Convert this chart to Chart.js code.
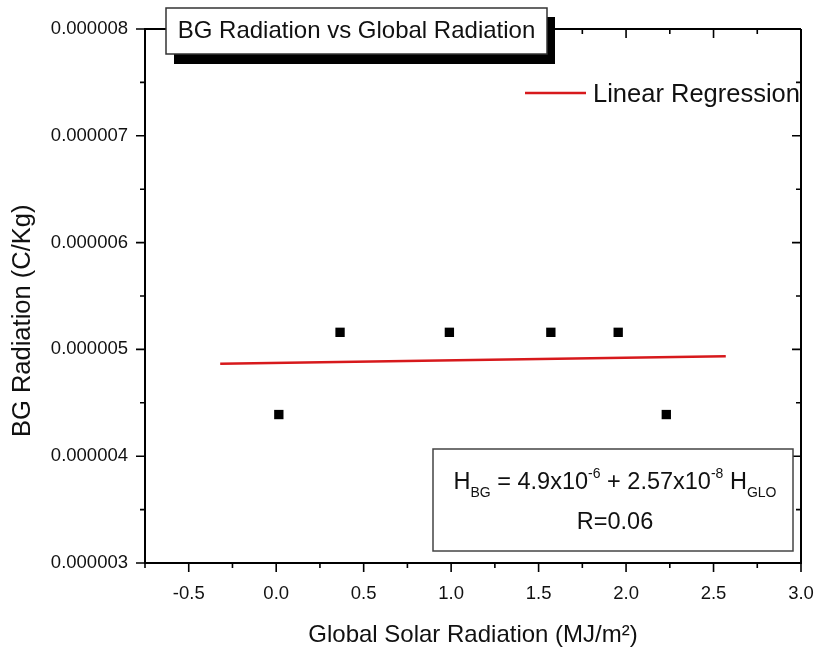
<!DOCTYPE html>
<html>
<head>
<meta charset="utf-8">
<script src="https://cdn.jsdelivr.net/npm/chart.js@4/dist/chart.umd.min.js"></script>
<style>
  html, body { margin: 0; padding: 0; background: #fff; }
  #wrap { width: 817px; height: 650px; }
</style>
</head>
<body>
<div id="wrap"><canvas id="bgChart" width="817" height="650"></canvas></div>
<script>
// measured points
const globalRad = [0.015, 0.365, 0.99, 1.57, 1.955, 2.23];
const bgRad = [0.00000439, 0.00000516, 0.00000516, 0.00000516, 0.00000516, 0.00000439];

// fitted line end points
const fitX = [-0.32, 2.57];
const fitY = [0.000004865, 0.000004935];

const titleText = 'BG Radiation vs Global Radiation';
const legendText = 'Linear Regression';
const rText = 'R=0.06';

const FONT = '"Liberation Sans", Arial, sans-serif';

const toXY = (xs, ys) => xs.map((x, i) => ({ x: x, y: ys[i] }));

// frame, inward/outward ticks, title box, legend and equation box
const decorations = {
  id: 'decorations',
  afterDraw(chart) {
    const { ctx, chartArea: a, scales } = chart;
    const xs = scales.x, ys = scales.y;
    ctx.save();
    ctx.strokeStyle = '#000';
    ctx.lineWidth = 2;
    ctx.beginPath();
    ctx.moveTo(a.left, a.top); ctx.lineTo(a.right, a.top);
    ctx.moveTo(a.right, a.top); ctx.lineTo(a.right, a.bottom);
    ctx.stroke();

    ctx.lineWidth = 1.6;
    ctx.beginPath();
    for (let v = -0.75; v <= 3.0001; v += 0.25) {
      const px = xs.getPixelForValue(v);
      const major = Math.abs(v * 2 - Math.round(v * 2)) < 1e-6;
      const len = major ? 9 : 5;
      ctx.moveTo(px, a.bottom); ctx.lineTo(px, a.bottom + len);
      ctx.moveTo(px, a.top); ctx.lineTo(px, a.top + len);
    }
    for (let k = 30; k <= 80; k += 5) {
      const py = ys.getPixelForValue(k / 1e7);
      const len = k % 10 === 0 ? 9 : 5;
      ctx.moveTo(a.left, py); ctx.lineTo(a.left - len, py);
      ctx.moveTo(a.right, py); ctx.lineTo(a.right - len, py);
    }
    ctx.stroke();

    // title box with shadow
    ctx.fillStyle = '#000';
    ctx.fillRect(174, 17, 381, 47);
    ctx.fillStyle = '#fff';
    ctx.fillRect(166, 8, 381, 46);
    ctx.strokeStyle = '#333';
    ctx.lineWidth = 1.5;
    ctx.strokeRect(166, 8, 381, 46);
    ctx.fillStyle = '#111';
    ctx.font = '24px ' + FONT;
    ctx.textAlign = 'center';
    ctx.textBaseline = 'alphabetic';
    ctx.fillText(titleText, 356.5, 38);

    // legend
    ctx.strokeStyle = '#d7191c';
    ctx.lineWidth = 2.5;
    ctx.beginPath();
    ctx.moveTo(525, 93); ctx.lineTo(586, 93);
    ctx.stroke();
    ctx.fillStyle = '#111';
    ctx.font = '25.5px ' + FONT;
    ctx.textAlign = 'left';
    ctx.fillText(legendText, 593, 102);

    // equation box
    ctx.fillStyle = '#fff';
    ctx.fillRect(433, 449, 360, 102);
    ctx.strokeStyle = '#444';
    ctx.lineWidth = 1.5;
    ctx.strokeRect(433, 449, 360, 102);

    const big = 23.5, small = 14;
    const parts = [
      ['H', big, 0], ['BG', small, 8], [' = 4.9x10', big, 0], ['-6', small, -11],
      [' + 2.57x10', big, 0], ['-8', small, -11], [' H', big, 0], ['GLO', small, 8]
    ];
    let total = 0;
    parts.forEach(p => { ctx.font = p[1] + 'px ' + FONT; total += ctx.measureText(p[0]).width; });
    let cx = 615 - total / 2;
    ctx.fillStyle = '#111';
    parts.forEach(p => {
      ctx.font = p[1] + 'px ' + FONT;
      ctx.fillText(p[0], cx, 489 + p[2]);
      cx += ctx.measureText(p[0]).width;
    });
    ctx.font = big + 'px ' + FONT;
    ctx.textAlign = 'center';
    ctx.fillText(rText, 615, 529);
    ctx.restore();
  }
};

new Chart(document.getElementById('bgChart'), {
  type: 'scatter',
  data: {
    datasets: [
      {
        label: 'Data',
        data: toXY(globalRad, bgRad),
        pointStyle: 'rect',
        pointRadius: 6.6,
        pointHoverRadius: 6.6,
        backgroundColor: '#000',
        borderWidth: 0
      },
      {
        label: legendText,
        type: 'line',
        data: toXY(fitX, fitY),
        borderColor: '#d7191c',
        borderWidth: 2.5,
        pointRadius: 0,
        fill: false
      }
    ]
  },
  options: {
    responsive: false,
    animation: false,
    layout: { padding: { top: 29, right: 16, left: 0, bottom: 0 } },
    plugins: {
      legend: { display: false },
      tooltip: { enabled: false }
    },
    scales: {
      x: {
        type: 'linear',
        min: -0.75,
        max: 3.0,
        afterFit: s => { s.height = 87; s.paddingLeft = 0; s.paddingRight = 0; },
        border: { color: '#000', width: 2 },
        grid: { drawOnChartArea: false, color: 'rgba(0,0,0,0)', tickLength: 9 },
        ticks: {
          stepSize: 0.25,
          padding: 11,
          color: '#111',
          font: { family: FONT, size: 18.5 },
          maxRotation: 0,
          autoSkip: false,
          callback: v => (Math.abs(v * 2 - Math.round(v * 2)) < 1e-6 ? v.toFixed(1) : '')
        },
        title: {
          display: true,
          text: 'Global Solar Radiation (MJ/m²)',
          color: '#111',
          font: { family: FONT, size: 24 },
          padding: { top: 0, bottom: 0 }
        }
      },
      y: {
        min: 0.000003,
        max: 0.000008,
        afterFit: s => { s.width = 145; s.paddingTop = 0; s.paddingBottom = 0; },
        border: { color: '#000', width: 2 },
        grid: { drawOnChartArea: false, color: 'rgba(0,0,0,0)', tickLength: 9 },
        ticks: {
          stepSize: 0.0000005,
          padding: 8,
          color: '#111',
          font: { family: FONT, size: 18.5 },
          autoSkip: false,
          callback: v => (Math.round(v * 1e7) % 10 === 0 ? v.toFixed(6) : '')
        },
        title: {
          display: true,
          // trailing spaces push the glyphs down, as in the original
          text: 'BG Radiation (C/Kg)       ',
          color: '#111',
          font: { family: FONT, size: 25.5 },
          padding: { top: 8, bottom: 0 }
        }
      }
    }
  },
  plugins: [decorations]
});
</script>
</body>
</html>
